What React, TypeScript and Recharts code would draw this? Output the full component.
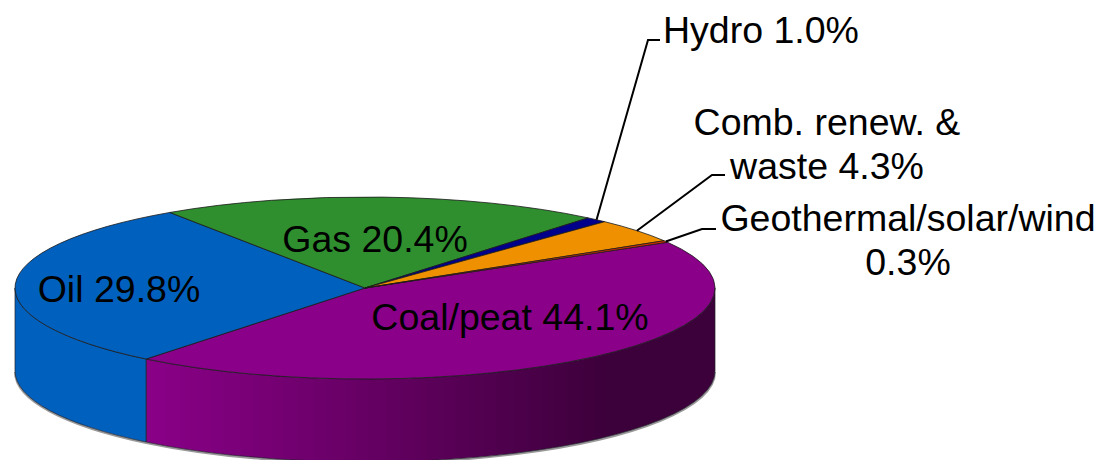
import React from "react";
import { PieChart, Pie } from "recharts";

const names = ["Coal/peat", "Oil", "Gas", "Hydro", "Comb. renew. & waste", "Geothermal/solar/wind"];
const shares = [44.1, 29.8, 20.4, 1.0, 4.3, 0.3];
const colors = ["#8A0088", "#0060BE", "#2F8F2F", "#00008A", "#EE9000", "#E03000"];
const labelLines = [
  ["Coal/peat 44.1%"],
  ["Oil 29.8%"],
  ["Gas 20.4%"],
  ["Hydro 1.0%"],
  ["Comb. renew. &", "waste 4.3%"],
  ["Geothermal/solar/wind", "0.3%"],
];

const data = names.map((name, i) => ({ name, value: shares[i], fill: colors[i] }));

// layout
const CX = 365;
const CY = 288;
const RX = 350;
const SQUASH = 0.26;
const DEPTH = 83;
const START = 30.2;
const FONT = 37.5;
const RAD = Math.PI / 180;

type LabelLayout = { x: number; y: number; anchor: "start" | "middle"; elbow?: number[][]; dy?: number };
const labelLayout: LabelLayout[] = [
  { x: 510, y: 330, anchor: "middle" },
  { x: 119, y: 302, anchor: "middle" },
  { x: 375, y: 252, anchor: "middle" },
  { x: 663, y: 43, anchor: "start", elbow: [[648, 40], [660, 40]] },
  { x: 827, y: 135, anchor: "middle", dy: 44, elbow: [[712, 175], [725, 175]] },
  { x: 908, y: 231, anchor: "middle", dy: 44, elbow: [[702, 229], [716, 229]] },
];

const pt = (a: number, cy: number = CY) => ({
  x: CX + RX * Math.cos(a * RAD),
  y: cy - RX * SQUASH * Math.sin(a * RAD),
});

const Slice = (props: any) => {
  const { startAngle, endAngle, fill, index } = props;
  const a = pt(startAngle);
  const b = pt(endAngle);
  const large = Math.abs(startAngle - endAngle) > 180 ? 1 : 0;
  const ry = RX * SQUASH;
  const top = `M${CX},${CY} L${a.x},${a.y} A${RX},${ry} 0 ${large} 1 ${b.x},${b.y} Z`;

  // Visible wall: part of the slice on the front half of the disc (angles 0 to -180).
  const ws = Math.min(startAngle, 0);
  const we = Math.max(endAngle, -180);
  let wall: React.ReactNode = null;
  if (ws > we) {
    const p = pt(ws);
    const q = pt(we);
    const p2 = pt(ws, CY + DEPTH);
    const q2 = pt(we, CY + DEPTH);
    const d = `M${p.x},${p.y} A${RX},${ry} 0 0 1 ${q.x},${q.y} L${q2.x},${q2.y} A${RX},${ry} 0 0 0 ${p2.x},${p2.y} Z`;
    const edge = `M${q2.x},${q2.y + 1} A${RX},${ry} 0 0 0 ${p2.x},${p2.y + 1}`;
    wall = (
      <g>
        <path d={edge} fill="none" stroke="#9a9a9a" strokeWidth={2} />
        <path d={d} fill={index === 0 ? "url(#coalWall)" : fill} stroke="#20202a" strokeWidth={0.7} />
      </g>
    );
  }
  return (
    <g>
      {wall}
      <path d={top} fill={fill} stroke="#1a1a1a" strokeWidth={0.8} />
    </g>
  );
};

const PieLabel = (props: any) => {
  const { index, midAngle } = props;
  const l = labelLayout[index];
  const rim = pt(midAngle);
  const lines = labelLines[index];
  return (
    <g>
      {l.elbow && (
        <polyline
          points={[[rim.x, rim.y], ...l.elbow].map((p) => p.join(",")).join(" ")}
          fill="none"
          stroke="#000"
          strokeWidth={2}
        />
      )}
      {lines.map((t, i) => (
        <text
          key={t}
          x={l.x}
          y={l.y + i * (l.dy ?? 0)}
          textAnchor={l.anchor}
          fontFamily="'Liberation Sans', Arial, sans-serif"
          fontSize={FONT}
          fill="#000"
        >
          {t}
        </text>
      ))}
    </g>
  );
};

export default function App() {
  return (
    <div style={{ position: "absolute", left: 0, top: 0, width: 1100, height: 460, background: "#fff" }}>
      <PieChart width={1100} height={460} margin={{ top: 0, right: 0, bottom: 0, left: 0 }}>
        <defs>
          <linearGradient id="coalWall" gradientUnits="userSpaceOnUse" x1={145} y1={0} x2={610} y2={0}>
            <stop offset="0" stopColor="#8A0088" />
            <stop offset="0.45" stopColor="#680066" />
            <stop offset="1" stopColor="#3C003A" />
          </linearGradient>
        </defs>
        <Pie
          data={data}
          dataKey="value"
          nameKey="name"
          cx={CX}
          cy={CY}
          innerRadius={0}
          outerRadius={RX}
          startAngle={START}
          endAngle={START - 360}
          paddingAngle={0}
          stroke="none"
          isAnimationActive={false}
          shape={Slice}
          label={PieLabel}
          labelLine={false}
        />
      </PieChart>
    </div>
  );
}
